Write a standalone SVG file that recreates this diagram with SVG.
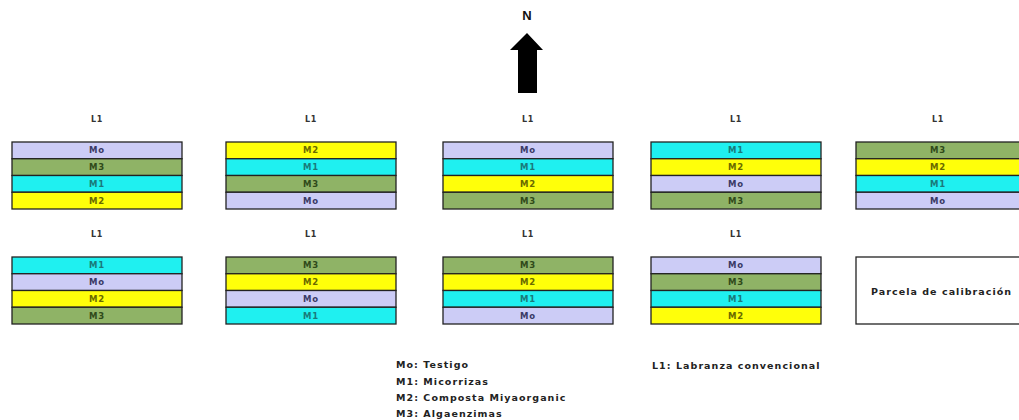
<svg xmlns="http://www.w3.org/2000/svg" width="1019" height="420" viewBox="0 0 1019 420">
<style>
.mo{fill:#ccccf6}.m1{fill:#1ff0f0}.m2{fill:#ffff0a}.m3{fill:#8fb366}
rect{stroke:#222;stroke-width:1.3}
.t{font-family:"DejaVu Sans",sans-serif;font-weight:bold;font-size:8.5px;letter-spacing:0.8px;text-anchor:middle;dominant-baseline:central}
.tmo{fill:#3a3a66}.tm1{fill:#1a7a7a}.tm2{fill:#6a6a00}.tm3{fill:#2f4a1a}
.lab{font-family:"DejaVu Sans",sans-serif;font-weight:bold;font-size:8px;letter-spacing:0.6px;fill:#333;text-anchor:middle;dominant-baseline:central}
.leg{font-family:"DejaVu Sans",sans-serif;font-weight:bold;font-size:9.5px;letter-spacing:1.05px;fill:#222;dominant-baseline:central}
</style>
<g id="north">
<text x="527" y="15" font-family="Liberation Sans, sans-serif" font-weight="bold" font-size="13" text-anchor="middle" dominant-baseline="central" fill="#111">N</text>
<polygon points="527,33 543,50 537,50 537,93 518,93 518,50 510,50" fill="#000"/>
</g>
<g id="p1">
<text class="lab" x="97" y="119">L1</text>
<rect class="mo" x="12" y="142" width="170" height="16.75"/><text class="t tmo" x="97" y="150.4">Mo</text>
<rect class="m3" x="12" y="158.75" width="170" height="16.75"/><text class="t tm3" x="97" y="167.1">M3</text>
<rect class="m1" x="12" y="175.5" width="170" height="16.75"/><text class="t tm1" x="97" y="183.9">M1</text>
<rect class="m2" x="12" y="192.25" width="170" height="16.75"/><text class="t tm2" x="97" y="200.6">M2</text>
</g>
<g id="p2">
<text class="lab" x="311" y="119">L1</text>
<rect class="m2" x="226" y="142" width="170" height="16.75"/><text class="t tm2" x="311" y="150.4">M2</text>
<rect class="m1" x="226" y="158.75" width="170" height="16.75"/><text class="t tm1" x="311" y="167.1">M1</text>
<rect class="m3" x="226" y="175.5" width="170" height="16.75"/><text class="t tm3" x="311" y="183.9">M3</text>
<rect class="mo" x="226" y="192.25" width="170" height="16.75"/><text class="t tmo" x="311" y="200.6">Mo</text>
</g>
<g id="p3">
<text class="lab" x="528" y="119">L1</text>
<rect class="mo" x="443" y="142" width="170" height="16.75"/><text class="t tmo" x="528" y="150.4">Mo</text>
<rect class="m1" x="443" y="158.75" width="170" height="16.75"/><text class="t tm1" x="528" y="167.1">M1</text>
<rect class="m2" x="443" y="175.5" width="170" height="16.75"/><text class="t tm2" x="528" y="183.9">M2</text>
<rect class="m3" x="443" y="192.25" width="170" height="16.75"/><text class="t tm3" x="528" y="200.6">M3</text>
</g>
<g id="p4">
<text class="lab" x="736" y="119">L1</text>
<rect class="m1" x="651" y="142" width="170" height="16.75"/><text class="t tm1" x="736" y="150.4">M1</text>
<rect class="m2" x="651" y="158.75" width="170" height="16.75"/><text class="t tm2" x="736" y="167.1">M2</text>
<rect class="mo" x="651" y="175.5" width="170" height="16.75"/><text class="t tmo" x="736" y="183.9">Mo</text>
<rect class="m3" x="651" y="192.25" width="170" height="16.75"/><text class="t tm3" x="736" y="200.6">M3</text>
</g>
<g id="p5">
<text class="lab" x="938" y="119">L1</text>
<rect class="m3" x="856" y="142" width="170" height="16.75"/><text class="t tm3" x="938" y="150.4">M3</text>
<rect class="m2" x="856" y="158.75" width="170" height="16.75"/><text class="t tm2" x="938" y="167.1">M2</text>
<rect class="m1" x="856" y="175.5" width="170" height="16.75"/><text class="t tm1" x="938" y="183.9">M1</text>
<rect class="mo" x="856" y="192.25" width="170" height="16.75"/><text class="t tmo" x="938" y="200.6">Mo</text>
</g>
<g id="p6">
<text class="lab" x="97" y="234">L1</text>
<rect class="m1" x="12" y="257" width="170" height="16.75"/><text class="t tm1" x="97" y="265.4">M1</text>
<rect class="mo" x="12" y="273.75" width="170" height="16.75"/><text class="t tmo" x="97" y="282.1">Mo</text>
<rect class="m2" x="12" y="290.5" width="170" height="16.75"/><text class="t tm2" x="97" y="298.9">M2</text>
<rect class="m3" x="12" y="307.25" width="170" height="16.75"/><text class="t tm3" x="97" y="315.6">M3</text>
</g>
<g id="p7">
<text class="lab" x="311" y="234">L1</text>
<rect class="m3" x="226" y="257" width="170" height="16.75"/><text class="t tm3" x="311" y="265.4">M3</text>
<rect class="m2" x="226" y="273.75" width="170" height="16.75"/><text class="t tm2" x="311" y="282.1">M2</text>
<rect class="mo" x="226" y="290.5" width="170" height="16.75"/><text class="t tmo" x="311" y="298.9">Mo</text>
<rect class="m1" x="226" y="307.25" width="170" height="16.75"/><text class="t tm1" x="311" y="315.6">M1</text>
</g>
<g id="p8">
<text class="lab" x="528" y="234">L1</text>
<rect class="m3" x="443" y="257" width="170" height="16.75"/><text class="t tm3" x="528" y="265.4">M3</text>
<rect class="m2" x="443" y="273.75" width="170" height="16.75"/><text class="t tm2" x="528" y="282.1">M2</text>
<rect class="m1" x="443" y="290.5" width="170" height="16.75"/><text class="t tm1" x="528" y="298.9">M1</text>
<rect class="mo" x="443" y="307.25" width="170" height="16.75"/><text class="t tmo" x="528" y="315.6">Mo</text>
</g>
<g id="p9">
<text class="lab" x="736" y="234">L1</text>
<rect class="mo" x="651" y="257" width="170" height="16.75"/><text class="t tmo" x="736" y="265.4">Mo</text>
<rect class="m3" x="651" y="273.75" width="170" height="16.75"/><text class="t tm3" x="736" y="282.1">M3</text>
<rect class="m1" x="651" y="290.5" width="170" height="16.75"/><text class="t tm1" x="736" y="298.9">M1</text>
<rect class="m2" x="651" y="307.25" width="170" height="16.75"/><text class="t tm2" x="736" y="315.6">M2</text>
</g>
<g id="calib">
<rect x="856" y="257" width="170" height="67" fill="#fff"/>
<text class="leg" x="871" y="291">Parcela de calibración</text>
</g>
<g id="legend">
<text class="leg" x="396" y="364">Mo: Testigo</text>
<text class="leg" x="396" y="381">M1: Micorrizas</text>
<text class="leg" x="396" y="397">M2: Composta Miyaorganic</text>
<text class="leg" x="396" y="413">M3: Algaenzimas</text>
<text class="leg" x="652" y="365">L1: Labranza convencional</text>
</g>
</svg>
